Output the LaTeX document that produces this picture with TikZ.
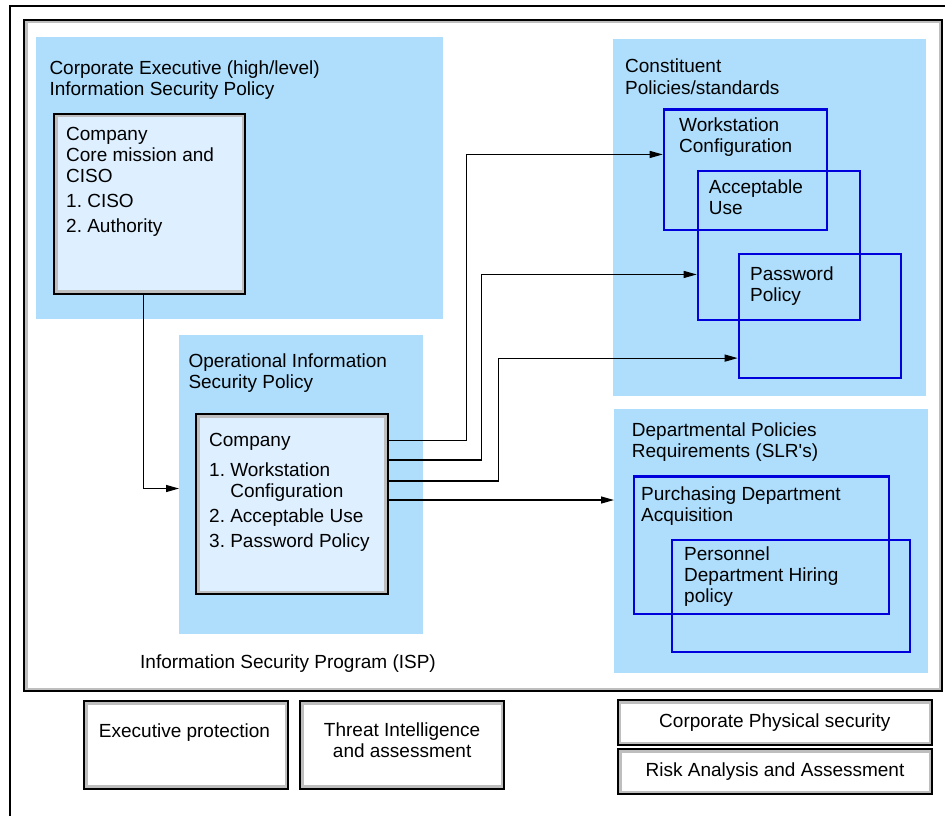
\documentclass[tikz,border=0pt]{standalone}
\usepackage{fontspec}
\setmainfont{Liberation Sans}
\usetikzlibrary{arrows.meta,calc}
\definecolor{panelblue}{RGB}{174,222,252}
\definecolor{boxfill}{RGB}{222,240,255}
\definecolor{bevelgray}{RGB}{190,190,190}
\definecolor{subblue}{RGB}{0,0,220}
% lines stacked from the first baseline
\newcommand{\txtlines}[2][l]{\begin{tabular}[t]{@{}#1@{}}#2\end{tabular}}
\tikzset{
  lbl/.style={font=\fontsize{19}{21}\selectfont},
  txt/.style={lbl, inner sep=0pt, anchor=base west},
  panel/.style={fill=panelblue, inner sep=0pt, anchor=north west},
  bevel/.style={draw=black, line width=2pt, inner sep=0pt, anchor=north west,
    path picture={\draw[bevelgray, line width=7pt] (path picture bounding box.south west)
      rectangle (path picture bounding box.north east);}},
  sub/.style={draw=subblue, line width=2.2pt, inner sep=0pt, anchor=north west},
  link/.style={-{Triangle[length=13pt, width=7pt]}, line width=1.2pt},
}

\begin{document}
\begin{tikzpicture}[x=1pt, y=-1pt]
  \useasboundingbox (0,0) rectangle (945,816);
  \draw[line width=1.2pt] (945,6) -| (10,816);
  % program frame
  \node[bevel, fill=white, minimum width=918pt, minimum height=671pt] (isp) at (23,19) {};
  \node[lbl, anchor=base, inner sep=0pt] (t-isp) at (288,668) {Information Security Program (ISP)};

  % executive level
  \node[panel, minimum width=407pt, minimum height=282pt] (exec) at (36,37) {};
  \node[txt] (t-exec) at ($(exec.north west)+(13.3,37.5)$) {\txtlines{Corporate Executive (high/level)\\Information Security Policy}};
  \node[bevel, fill=boxfill, minimum width=191pt, minimum height=180pt] (co1) at (53.3,112.7) {};
  \node[txt] (t-co1) at ($(co1.north west)+(12.7,27.3)$)
    {\txtlines{Company\\Core mission and\\CISO\\[4.5pt]1.\ CISO\\[4pt]2.\ Authority}};

  % operational level
  \node[panel, minimum width=244pt, minimum height=299pt] (op) at (179,335) {};
  \node[txt] (t-op) at ($(op.north west)+(9.3,32)$) {\txtlines{Operational Information\\Security Policy}};
  \node[bevel, fill=boxfill, minimum width=191.5pt, minimum height=180pt] (co2) at (195,413.3) {};
  \node[txt] (t-co2) at ($(co2.north west)+(14,33.4)$)
    {\txtlines{Company\\[9pt]1.\ Workstation\\\hphantom{1.\ }Configuration\\[4pt]2.\ Acceptable Use\\[3.5pt]3.\ Password Policy}};

  % constituent policies
  \node[panel, minimum width=313.5pt, minimum height=357pt] (cons) at (612.3,39) {};
  \node[txt] (t-cons) at ($(cons.north west)+(12.7,34)$) {\txtlines{Constituent\\Policies/standards}};
  \node[sub, minimum width=163.5pt, minimum height=120.7pt] (ws) at (662.7,108.3) {};
  \node[sub, minimum width=162.3pt, minimum height=149.3pt] (au) at (696.7,169.7) {};
  \node[sub, minimum width=162.3pt, minimum height=124pt] (pw) at (737.7,253) {};
  \node[txt] (t-ws) at ($(ws.north west)+(16.3,23.4)$) {\txtlines{Workstation\\Configuration}};
  \node[txt] (t-au) at ($(au.north west)+(12,23.6)$) {\txtlines{Acceptable\\Use}};
  \node[txt] (t-pw) at ($(pw.north west)+(12.3,27)$) {\txtlines{Password\\Policy}};

  % departmental policies
  \node[panel, minimum width=313.7pt, minimum height=264pt] (dept) at (614,409) {};
  \node[txt] (t-dept) at ($(dept.north west)+(17.7,27.7)$) {\txtlines{Departmental Policies\\Requirements (SLR\textquotesingle s)}};
  \node[sub, minimum width=255.3pt, minimum height=137.4pt] (pur) at (632.7,475.3) {};
  \node[sub, minimum width=238pt, minimum height=112pt] (per) at (670.7,539) {};
  \node[txt] (t-pur) at ($(pur.north west)+(8.3,24.7)$) {\txtlines{Purchasing Department\\Acquisition}};
  \node[txt] (t-per) at ($(per.north west)+(13.3,21.7)$) {\txtlines{Personnel\\Department Hiring\\policy}};

  % links
  \draw[link] ([xshift=-6.5pt]co1.south) |- ([yshift=-3.8pt]op.west);
  \draw[link] ([yshift=64pt]co2.east) -- ++(78.3,0) |- ([yshift=15.3pt]ws.west);
  \draw[link] ([yshift=44.3pt]co2.east) -- ++(93.3,0) |- ([yshift=-29pt]au.west);
  \draw[link] ([yshift=23.3pt]co2.east) -- ++(110.3,0) |- ([yshift=-42pt]pw.west);
  \draw[link] ([yshift=4.3pt]co2.east) coordinate (d0) -- (d0 -| dept.west);

  % supporting functions
  \node[bevel, fill=white, minimum width=204pt, minimum height=87.7pt] (ep) at (83.3,700) {};
  \node[lbl, anchor=base, inner sep=0pt] (t-ep) at ($(ep.north)+(-1.8,37.7)$) {Executive protection};
  \node[bevel, fill=white, minimum width=204.3pt, minimum height=87.7pt] (ti) at (299,700) {};
  \node[lbl, anchor=base, inner sep=0pt] (t-ti) at ($(ti.north)+(0,36.7)$) {\txtlines[c]{Threat Intelligence\\and assessment}};
  \node[bevel, fill=white, lbl, minimum width=314.3pt, minimum height=45pt] (cps) at (616.7,699) {Corporate Physical security};
  \node[bevel, fill=white, lbl, minimum width=314pt, minimum height=45pt] (ra) at (617,748.3) {Risk Analysis and Assessment};
\end{tikzpicture}
\end{document}
